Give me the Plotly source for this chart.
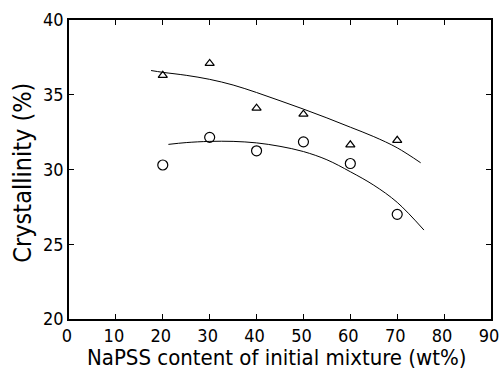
import plotly.graph_objects as go

# Measured points
napss_pts = [20, 30, 40, 50, 60, 70]
cryst_tri = [36.3, 37.1, 34.1, 33.7, 31.65, 31.95]
cryst_circ = [30.3, 32.15, 31.25, 31.85, 30.4, 27.0]

# Fitted curves
upper_x = [17.5, 20, 25, 30, 35, 40, 45, 50, 55, 60, 65, 70, 75]
upper_y = [36.62, 36.5, 36.3, 36.03, 35.65, 35.15, 34.6, 34.04, 33.45, 32.83, 32.2, 31.45, 30.45]
lower_x = [21.2, 25, 30, 35, 40, 45, 50, 55, 60, 65, 70, 75.7]
lower_y = [31.68, 31.8, 31.88, 31.88, 31.78, 31.55, 31.2, 30.65, 29.85, 28.95, 27.8, 25.95]

x_ticks = [0, 10, 20, 30, 40, 50, 60, 70, 80, 90]
y_ticks = [20, 25, 30, 35, 40]
x_title = "NaPSS content of initial mixture (wt%)"
y_title = "Crystallinity (%)"

FONT = "DejaVu Sans Condensed, DejaVu Sans Mono, sans-serif"
B = 53
PH = 372 - 20 - B

fig = go.Figure()
fig.add_trace(go.Scatter(x=upper_x, y=upper_y, mode="lines", line=dict(color="black", width=1, shape="spline"), showlegend=False))
fig.add_trace(go.Scatter(x=lower_x, y=lower_y, mode="lines", line=dict(color="black", width=1, shape="spline"), showlegend=False))
fig.add_trace(go.Scatter(x=napss_pts, y=cryst_tri, mode="markers",
                         marker=dict(symbol="triangle-up-open", size=8, color="black", line=dict(width=1.2)), showlegend=False))
fig.add_trace(go.Scatter(x=napss_pts, y=cryst_circ, mode="markers",
                         marker=dict(symbol="circle-open", size=10, color="black", line=dict(width=1.2)), showlegend=False))

axis_common = dict(showgrid=False, zeroline=False, showline=True, linecolor="black", linewidth=1.5,
                   mirror="ticks", ticks="inside", ticklen=5, tickcolor="black", tickwidth=1,
                   ticklabeloverflow="allow", automargin=False,
                   tickfont=dict(family=FONT, size=18, color="black"))
fig.update_xaxes(range=[0, 90], tickvals=x_ticks, ticktext=[str(v) for v in x_ticks],
                 ticklabelshift=-2, **axis_common)
fig.update_yaxes(range=[20, 40], tickvals=y_ticks, ticktext=[str(v) for v in y_ticks],
                 **axis_common)
fig.add_annotation(text=x_title, xref="paper", yref="paper", x=0.492, y=-B / PH,
                   xanchor="center", yanchor="bottom", showarrow=False,
                   font=dict(family=FONT, size=22, color="black"))
fig.add_annotation(text=y_title, xref="paper", yref="paper", x=-0.111, y=0.49,
                   xanchor="center", yanchor="middle", textangle=-90, showarrow=False,
                   font=dict(family=FONT, size=25, color="black"))
fig.update_layout(width=499, height=372, margin=dict(l=69, r=8, t=20, b=B),
                  plot_bgcolor="white", paper_bgcolor="white")
fig.write_html("out.html")
